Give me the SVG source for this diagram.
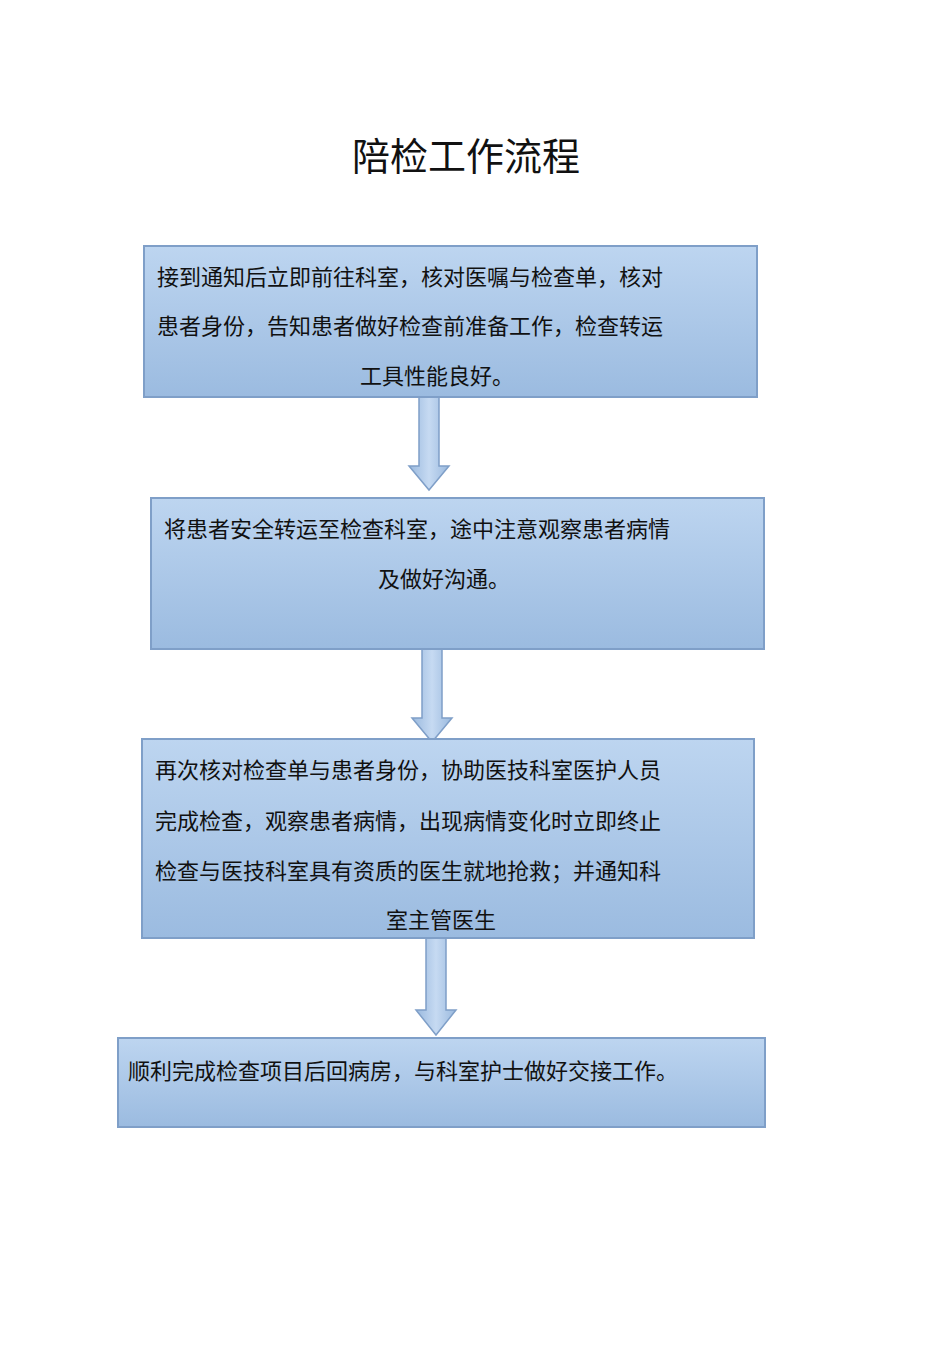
<svg xmlns="http://www.w3.org/2000/svg" width="950" height="1345" viewBox="0 0 950 1345">
<style>
text{font-family:"Liberation Serif","Noto Sans CJK SC",serif;fill:#111}
.t{font-size:22px}
.box{fill:url(#g);stroke:#7f9fc8;stroke-width:2}
.arr{fill:url(#ga);stroke:#7f9fc8;stroke-width:1.5}
</style>
<defs>
<linearGradient id="g" x1="0" y1="0" x2="0" y2="1"><stop offset="0" stop-color="#bdd5f0"/><stop offset="1" stop-color="#9bbbe0"/></linearGradient>
<linearGradient id="ga" x1="0" y1="0" x2="1" y2="0"><stop offset="0" stop-color="#9ab9de"/><stop offset="0.5" stop-color="#c6daf2"/><stop offset="1" stop-color="#9ab9de"/></linearGradient>
</defs>
<text x="466" y="170" font-size="38" text-anchor="middle">陪检工作流程</text>
<g id="connectors">
<path class="arr" d="M419,397 H439 V466 H449 L429,490 L409,466 H419 Z"/>
<path class="arr" d="M422,649 H442 V718 H452 L432,742 L412,718 H422 Z"/>
<path class="arr" d="M426,938 H446 V1010 H456 L436,1035 L416,1010 H426 Z"/>
</g>
<g id="n1"><rect class="box" x="144" y="246" width="613" height="151"/>
<text class="t" x="157" y="285">接到通知后立即前往科室，核对医嘱与检查单，核对</text>
<text class="t" x="157" y="334">患者身份，告知患者做好检查前准备工作，检查转运</text>
<text class="t" x="437" y="384" text-anchor="middle">工具性能良好。</text></g>
<g id="n2"><rect class="box" x="151" y="498" width="613" height="151"/>
<text class="t" x="164" y="537">将患者安全转运至检查科室，途中注意观察患者病情</text>
<text class="t" x="444" y="587" text-anchor="middle">及做好沟通。</text></g>
<g id="n3"><rect class="box" x="142" y="739" width="612" height="199"/>
<text class="t" x="155" y="778">再次核对检查单与患者身份，协助医技科室医护人员</text>
<text class="t" x="155" y="829">完成检查，观察患者病情，出现病情变化时立即终止</text>
<text class="t" x="155" y="879">检查与医技科室具有资质的医生就地抢救；并通知科</text>
<text class="t" x="441" y="928" text-anchor="middle">室主管医生</text></g>
<g id="n4"><rect class="box" x="118" y="1038" width="647" height="89"/>
<text class="t" x="128" y="1079">顺利完成检查项目后回病房，与科室护士做好交接工作。</text></g>
</svg>
